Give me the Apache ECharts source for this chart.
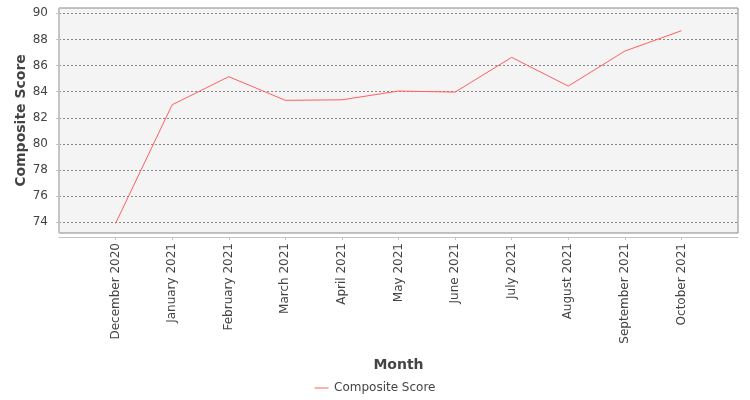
<!DOCTYPE html>
<html>
<head>
<meta charset="utf-8">
<script src="https://cdn.jsdelivr.net/npm/echarts@6/dist/echarts.min.js"></script>
<style>
  html, body { margin: 0; padding: 0; background: #fff; }
  #main { width: 750px; height: 400px; }
</style>
</head>
<body>
<div id="main"></div>
<script>
// 月份和综合得分
var months = ['December 2020', 'January 2021', 'February 2021', 'March 2021', 'April 2021',
  'May 2021', 'June 2021', 'July 2021', 'August 2021', 'September 2021', 'October 2021'];
var scores = [73.92, 83.0, 85.15, 83.34, 83.38, 84.05, 83.97, 86.63, 84.43, 87.11, 88.67];
var yTicks = [74, 76, 78, 80, 82, 84, 86, 88, 90];

// x 轴用数值轴，月份放在 1..11，两边各留一格
var xTicks = months.map(function (m, i) { return i + 1; });
var points = scores.map(function (v, i) { return [i + 1, v]; });

var font = 'DejaVu Sans, sans-serif';
var myChart = echarts.init(document.getElementById('main'));
myChart.setOption({
  animation: false,
  textStyle: { fontFamily: font },
  grid: {
    left: 59, right: 12, top: 8, bottom: 167,
    outerBoundsMode: 'none',
    containLabel: false,
    show: true,
    backgroundColor: '#f4f4f4',
    borderColor: '#888888',
    borderWidth: 1
  },
  legend: {
    top: 377,
    left: 'center',
    icon: 'path://M0,0L14,0L14,1L0,1Z',
    itemWidth: 15,
    itemHeight: 1,
    itemGap: 4,
    textStyle: { fontSize: 12, color: '#444', fontFamily: font },
    data: ['Composite Score']
  },
  xAxis: {
    type: 'value',
    min: 0,
    max: xTicks.length + 1,
    offset: 4,
    name: 'Month',
    nameLocation: 'middle',
    nameGap: 121,
    nameMoveOverlap: false,
    nameTextStyle: { fontSize: 14, fontWeight: 'bold', color: '#444', fontFamily: font },
    axisLine: { lineStyle: { color: '#c4c4c4', width: 1 } },
    axisTick: { customValues: xTicks, length: 3, lineStyle: { color: '#c4c4c4' } },
    axisLabel: {
      customValues: xTicks,
      rotate: 90,
      margin: 6,
      fontSize: 12,
      color: '#444',
      fontFamily: font,
      formatter: function (v) { return months[v - 1] || ''; }
    },
    splitLine: { show: false }
  },
  yAxis: {
    type: 'value',
    min: 73.18,
    max: 90.41,
    minInterval: 2,
    maxInterval: 2,
    offset: 4,
    name: 'Composite Score',
    nameLocation: 'middle',
    nameGap: 27,
    nameMoveOverlap: false,
    nameTextStyle: { fontSize: 14, fontWeight: 'bold', color: '#444', fontFamily: font },
    axisLine: { show: true, lineStyle: { color: '#c4c4c4', width: 1 } },
    axisTick: { show: true, customValues: yTicks, length: 3, lineStyle: { color: '#c4c4c4' } },
    axisLabel: { customValues: yTicks, margin: 7, fontSize: 12, color: '#444', fontFamily: font },
    splitLine: { lineStyle: { color: '#888888', type: [2, 2], width: 1 } }
  },
  series: [{
    name: 'Composite Score',
    type: 'line',
    data: points,
    symbol: 'none',
    lineStyle: { color: '#ff5f5f', width: 1 },
    itemStyle: { color: '#ff5f5f' }
  }]
});
</script>
</body>
</html>
